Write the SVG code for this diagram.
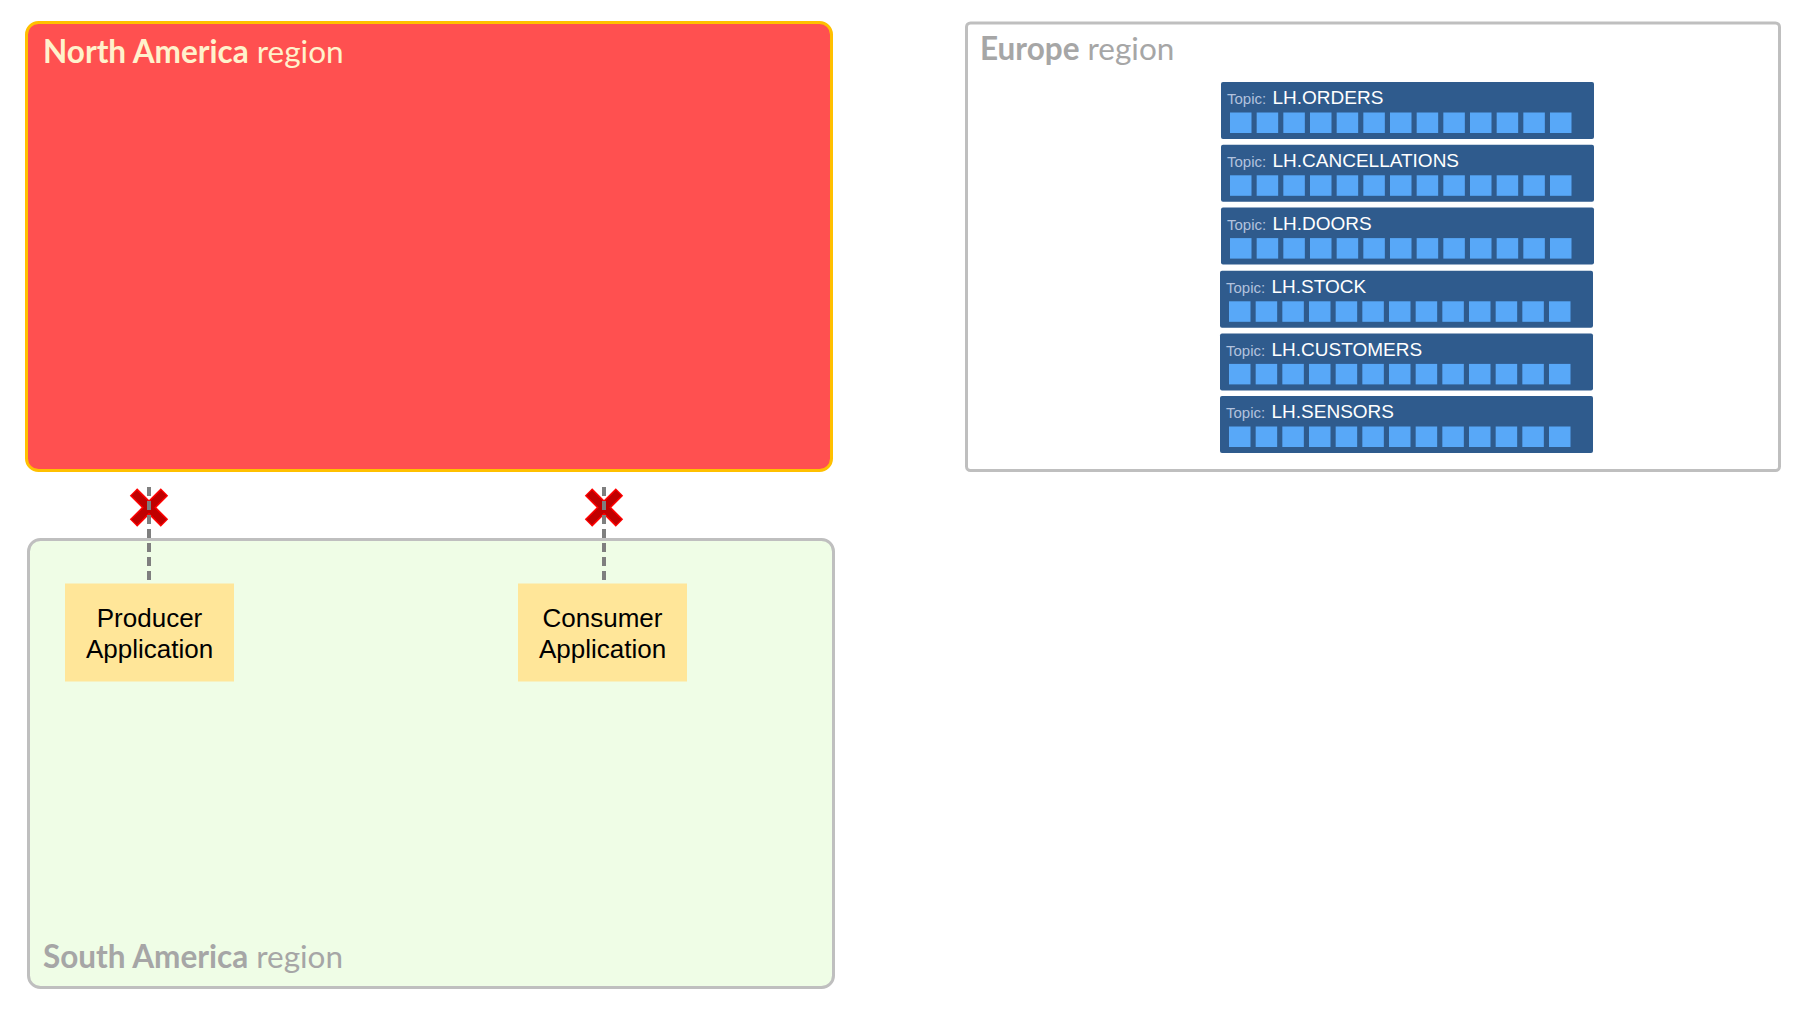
<svg xmlns="http://www.w3.org/2000/svg" width="1800" height="1013" viewBox="0 0 1800 1013">
<style>
.title{font-family:Lato,"Open Sans",sans-serif;font-size:31.5px}
.b{font-weight:bold}
.topicbox{fill:#2F5B8D}
.part{fill:#58A8F8}
.tlabel{font-family:"Liberation Sans",Arial,sans-serif;font-size:15px;fill:#B2C2DD}
.tname{font-family:"Liberation Sans",Arial,sans-serif;font-size:19px;fill:#FFFFFF}
.app{fill:#FFE699}
.apptext{font-family:"Liberation Sans",Arial,sans-serif;font-size:26px;fill:#000000;text-anchor:middle}
.conn{stroke:#7F7F7F;stroke-width:4;stroke-dasharray:9 5;fill:none}
.xo{stroke:#FF0000;stroke-width:10.5;stroke-linecap:butt}
.xi{stroke:#C00000;stroke-width:7.5;stroke-linecap:butt}
</style>
<defs>
<g id="parts">
<rect class="part" x="0" y="0" width="21.5" height="20.5"/>
<rect class="part" x="26.67" y="0" width="21.5" height="20.5"/>
<rect class="part" x="53.33" y="0" width="21.5" height="20.5"/>
<rect class="part" x="80" y="0" width="21.5" height="20.5"/>
<rect class="part" x="106.67" y="0" width="21.5" height="20.5"/>
<rect class="part" x="133.33" y="0" width="21.5" height="20.5"/>
<rect class="part" x="160" y="0" width="21.5" height="20.5"/>
<rect class="part" x="186.67" y="0" width="21.5" height="20.5"/>
<rect class="part" x="213.33" y="0" width="21.5" height="20.5"/>
<rect class="part" x="240" y="0" width="21.5" height="20.5"/>
<rect class="part" x="266.67" y="0" width="21.5" height="20.5"/>
<rect class="part" x="293.33" y="0" width="21.5" height="20.5"/>
<rect class="part" x="320" y="0" width="21.5" height="20.5"/>
</g>
<g id="xmark">
<line class="xo" x1="-15.5" y1="-15.5" x2="15.5" y2="15.5"/>
<line class="xo" x1="-15.5" y1="15.5" x2="15.5" y2="-15.5"/>
<line class="xi" x1="-14.7" y1="-14.7" x2="14.7" y2="14.7"/>
<line class="xi" x1="-14.7" y1="14.7" x2="14.7" y2="-14.7"/>
</g>
</defs>

<g id="north-america">
<rect x="26.5" y="22.5" width="805" height="448" rx="12" fill="#FF5050" stroke="#FFC000" stroke-width="3"/>
<text class="title" x="43" y="63" fill="#FFF2CC"><tspan class="b">North America</tspan> region</text>
</g>

<g id="south-america">
<rect x="28.5" y="539.5" width="805" height="448" rx="12" fill="#EFFDE6" stroke="#BFBFBF" stroke-width="3"/>
<text class="title" x="43" y="968" fill="#A6A6A6"><tspan class="b">South America</tspan> region</text>
</g>

<g id="europe">
<rect x="966.5" y="23" width="813" height="447.5" rx="4" fill="#FFFFFF" stroke="#BFBFBF" stroke-width="3"/>
<text class="title" x="980" y="60" fill="#A6A6A6"><tspan class="b">Europe</tspan> region</text>
</g>

<g id="topic-orders">
<rect class="topicbox" x="1221" y="82" width="373" height="57" rx="2"/>
<use href="#parts" x="1230" y="112.5"/>
<text y="104.3"><tspan class="tlabel" x="1227">Topic:</tspan><tspan class="tname" x="1272.5">LH.ORDERS</tspan></text>
</g>
<g id="topic-cancellations">
<rect class="topicbox" x="1221" y="144.8" width="373" height="57" rx="2"/>
<use href="#parts" x="1230" y="175.3"/>
<text y="167.1"><tspan class="tlabel" x="1227">Topic:</tspan><tspan class="tname" x="1272.5">LH.CANCELLATIONS</tspan></text>
</g>
<g id="topic-doors">
<rect class="topicbox" x="1221" y="207.6" width="373" height="57" rx="2"/>
<use href="#parts" x="1230" y="238.1"/>
<text y="229.9"><tspan class="tlabel" x="1227">Topic:</tspan><tspan class="tname" x="1272.5">LH.DOORS</tspan></text>
</g>
<g id="topic-stock">
<rect class="topicbox" x="1220" y="270.8" width="373" height="57" rx="2"/>
<use href="#parts" x="1229" y="301.3"/>
<text y="293.1"><tspan class="tlabel" x="1226">Topic:</tspan><tspan class="tname" x="1271.5">LH.STOCK</tspan></text>
</g>
<g id="topic-customers">
<rect class="topicbox" x="1220" y="333.4" width="373" height="57" rx="2"/>
<use href="#parts" x="1229" y="363.9"/>
<text y="355.7"><tspan class="tlabel" x="1226">Topic:</tspan><tspan class="tname" x="1271.5">LH.CUSTOMERS</tspan></text>
</g>
<g id="topic-sensors">
<rect class="topicbox" x="1220" y="396" width="373" height="57" rx="2"/>
<use href="#parts" x="1229" y="426.5"/>
<text y="418.3"><tspan class="tlabel" x="1226">Topic:</tspan><tspan class="tname" x="1271.5">LH.SENSORS</tspan></text>
</g>

<g id="producer">
<rect class="app" x="65" y="583.5" width="169" height="98"/>
<text class="apptext" x="149.5" y="626.5">Producer</text>
<text class="apptext" x="149.5" y="657.5">Application</text>
</g>
<g id="consumer">
<rect class="app" x="518" y="583.5" width="169" height="98"/>
<text class="apptext" x="602.5" y="626.5">Consumer</text>
<text class="apptext" x="602.5" y="657.5">Application</text>
</g>

<g id="broken-marks">
<use href="#xmark" x="149" y="507.5"/>
<use href="#xmark" x="604" y="507.5"/>
</g>

<g id="connectors">
<line class="conn" x1="149" y1="487" x2="149" y2="583.5"/>
<line class="conn" x1="604" y1="487" x2="604" y2="583.5"/>
</g>
</svg>
